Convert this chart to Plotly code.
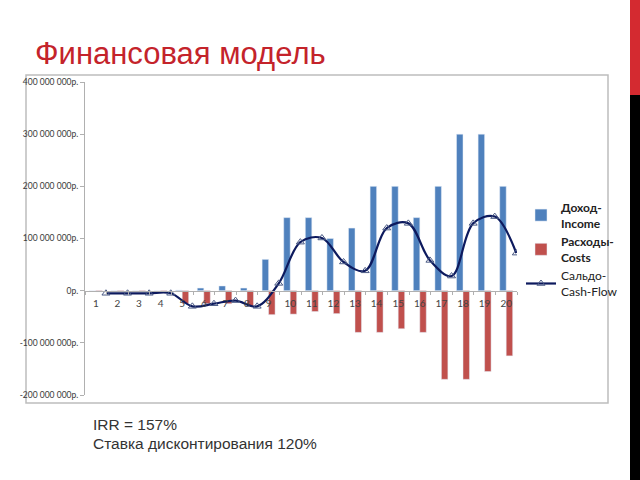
import plotly.graph_objects as go

categories = list(range(1, 21))
income = [0, 0, 0, 0, 1, 5, 9, 5, 60, 140, 140, 100, 120, 200, 200, 140, 200, 300, 300, 200]
costs = [-2, -2, -2, -2, -25, -25, -25, -30, -46, -45, -40, -44, -80, -80, -73, -80, -170, -170, -155, -125]
cashflow = [-5, -5, -5, -5, -30, -25, -19, -30, 14, 93, 101, 55, 38, 120, 129, 58, 28, 129, 142, 72]
M = 1_000_000
ytick_vals = [400, 300, 200, 100, 0, -100, -200]
ytick_text = ["400 000 000р.", "300 000 000р.", "200 000 000р.", "100 000 000р.", "0р.", "-100 000 000р.", "-200 000 000р."]

L, R, T, B = 85, 517, 82, 395
W, H = R - L, B - T
def px(x): return (x - L) / W
def py(y): return (B - y) / H

fig = go.Figure()
fig.add_trace(go.Bar(x=categories, y=[v * M for v in income], name="<b>Доход-</b><br><b>Income</b>",
                     marker_color="#4f81bd"))
fig.add_trace(go.Bar(x=categories, y=[v * M for v in costs], name="<b>Расходы-</b><br><b>Costs</b>",
                     marker_color="#c0504d"))
fig.add_trace(go.Scatter(x=[c + 0.47 for c in categories], y=[v * M for v in cashflow],
                         name="Сальдо-<br>Cash-Flow", mode="lines+markers",
                         line=dict(color="#0d1a5e", width=2.2, shape="spline"),
                         marker=dict(symbol="triangle-up-open", size=7, color="#4a5a85",
                                     line=dict(width=1))))

fig.update_layout(
    width=640, height=480,
    margin=dict(l=L, r=640 - R, t=T, b=480 - B),
    paper_bgcolor="white", plot_bgcolor="white",
    barmode="group", bargap=0.4, bargroupgap=0,
    showlegend=True,
    legend=dict(x=px(521), y=py(193), xanchor="left", yanchor="top",
                font=dict(family="Lato", size=12, color="#222"),
                tracegroupgap=2, itemwidth=30, bgcolor="rgba(0,0,0,0)"),
    font=dict(family="Liberation Sans"),
)
fig.update_xaxes(range=[0.5, 20.5], tickvals=categories, ticktext=[str(c) for c in categories],
                 anchor="free", position=1 / 3, showline=True, linecolor="#b0b0b0", linewidth=1,
                 ticks="", showgrid=False, zeroline=False, ticklabelstandoff=3,
                 tickfont=dict(family="Lato", size=10, color="#444"),
                 minor=dict(ticks="outside", tick0=0.5, dtick=1, ticklen=3, tickcolor="#b0b0b0", showgrid=False))
fig.update_yaxes(range=[-200 * M, 400 * M], tickvals=[v * M for v in ytick_vals], ticktext=ytick_text,
                 showline=True, linecolor="#b0b0b0", linewidth=1, ticks="outside", ticklen=4,
                 tickcolor="#b0b0b0", showgrid=False, zeroline=False,
                 tickfont=dict(family="Lato", size=8.5, color="#3a3a3a"))

shapes = [
    dict(type="rect", xref="paper", yref="paper", x0=px(26), x1=px(608), y0=py(403), y1=py(75),
         line=dict(color="#bdbdbd", width=1.5), fillcolor="rgba(0,0,0,0)", layer="below"),
    dict(type="rect", xref="paper", yref="paper", x0=px(630), x1=px(641), y0=py(95), y1=py(-1),
         line=dict(width=0), fillcolor="#d42a30"),
    dict(type="rect", xref="paper", yref="paper", x0=px(630), x1=px(641), y0=py(481), y1=py(95),
         line=dict(width=0), fillcolor="#000000"),
]
fig.update_layout(shapes=shapes)

fig.add_annotation(text="Финансовая модель", xref="paper", yref="paper", x=px(33), y=py(54),
                   xanchor="left", yanchor="middle", showarrow=False,
                   font=dict(family="Liberation Sans", size=31, color="#c4232b"))
fig.add_annotation(text="IRR = 157%", xref="paper", yref="paper", x=px(91), y=py(424),
                   xanchor="left", yanchor="middle", showarrow=False,
                   font=dict(family="Liberation Sans", size=15.5, color="#333"))
fig.add_annotation(text="Ставка дисконтирования 120%", xref="paper", yref="paper", x=px(91), y=py(443),
                   xanchor="left", yanchor="middle", showarrow=False,
                   font=dict(family="Liberation Sans", size=15.5, color="#333"))

fig.write_html("out.html")
